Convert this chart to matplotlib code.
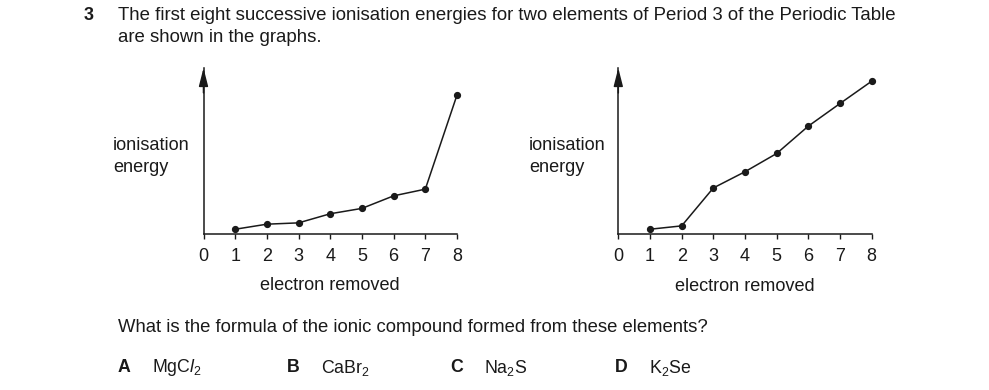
import matplotlib.pyplot as plt

plt.rcParams['font.family'] = ['Liberation Sans', 'DejaVu Sans']
plt.rcParams['mathtext.fontset'] = 'custom'
plt.rcParams['mathtext.rm'] = 'Liberation Sans'
plt.rcParams['mathtext.it'] = 'Liberation Sans:italic'
plt.rcParams['mathtext.bf'] = 'Liberation Sans:bold'

# data (arbitrary units, axis arrow top = 164)
electrons = [1, 2, 3, 4, 5, 6, 7, 8]
ie_left = [4.7, 9.7, 11.0, 20.0, 25.3, 37.7, 44.3, 137.3]
ie_right = [5.0, 8.3, 45.7, 61.7, 79.7, 106.7, 129.0, 151.0]
xticks = [0, 1, 2, 3, 4, 5, 6, 7, 8]

options = ['A', 'B', 'C', 'D']
answers = [r'MgC$\mathit{l}_{\mathregular{2}}$', r'CaBr$_{\mathregular{2}}$',
           r'Na$_{\mathregular{2}}$S', r'K$_{\mathregular{2}}$Se']

W, H = 989, 390
fig = plt.figure(figsize=(W / 100, H / 100), dpi=100)
ink = '#1a1a1a'


def make_axes(x0, x8, y0, ytop, vals, lab_x):
    ax = fig.add_axes([x0 / W, (H - y0) / H, (x8 - x0) / W, (y0 - ytop) / H])
    ax.plot(electrons, vals, '-o', color=ink, lw=1.1, ms=4.2, clip_on=False)
    ax.set_xlim(0, 8)
    ax.set_ylim(0, 164)
    for s in ['top', 'right']:
        ax.spines[s].set_visible(False)
    for s in ['left', 'bottom']:
        ax.spines[s].set_linewidth(1.1)
        ax.spines[s].set_color(ink)
    ax.set_yticks([])
    ax.set_xticks(xticks)
    ax.tick_params(axis='x', direction='out', length=3.5, width=1.0,
                   color=ink, labelsize=13, pad=6.5, labelcolor=ink)
    ax.annotate('', xy=(0, 1.0), xytext=(0, 0.85), xycoords='axes fraction',
                arrowprops=dict(arrowstyle='-|>,head_length=1.1,head_width=0.28',
                                color=ink, lw=1.1, mutation_scale=10,
                                shrinkA=0, shrinkB=0),
                annotation_clip=False)
    ax.set_xlabel('electron removed', fontsize=13.1, color=ink, labelpad=9)
    fig.text(lab_x / W, 1 - 145 / H, 'ionisation', fontsize=13.1, color=ink,
             va='center', ha='left')
    fig.text(lab_x / W, 1 - 167 / H, 'energy', fontsize=13.1, color=ink,
             va='center', ha='left')
    return ax


make_axes(203.5, 457, 234, 68, ie_left, 113)
make_axes(618.3, 871.7, 234.3, 68, ie_right, 529)

# question header
fig.text(84 / W, 1 - 15 / H, '3', fontsize=13, fontweight='bold',
         va='center', ha='left', color=ink)
fig.text(118 / W, 1 - 15 / H,
         'The first eight successive ionisation energies for two elements of '
         'Period 3 of the Periodic Table', fontsize=13.4, va='center',
         ha='left', color=ink)
fig.text(118 / W, 1 - 37 / H, 'are shown in the graphs.', fontsize=13.4,
         va='center', ha='left', color=ink)

fig.text(118 / W, 1 - 327.5 / H,
         'What is the formula of the ionic compound formed from these elements?',
         fontsize=13.3, va='center', ha='left', color=ink)

opt_x = [118, 287, 450, 615]
for lx, o, a in zip(opt_x, options, answers):
    fig.text(lx / W, 1 - 368 / H, o, fontsize=12.8, fontweight='bold',
             va='center', ha='left', color=ink)
    fig.text((lx + 34) / W, 1 - 368 / H, a, fontsize=12.8, va='center',
             ha='left', color=ink)

fig.savefig('out.png', dpi=100)
